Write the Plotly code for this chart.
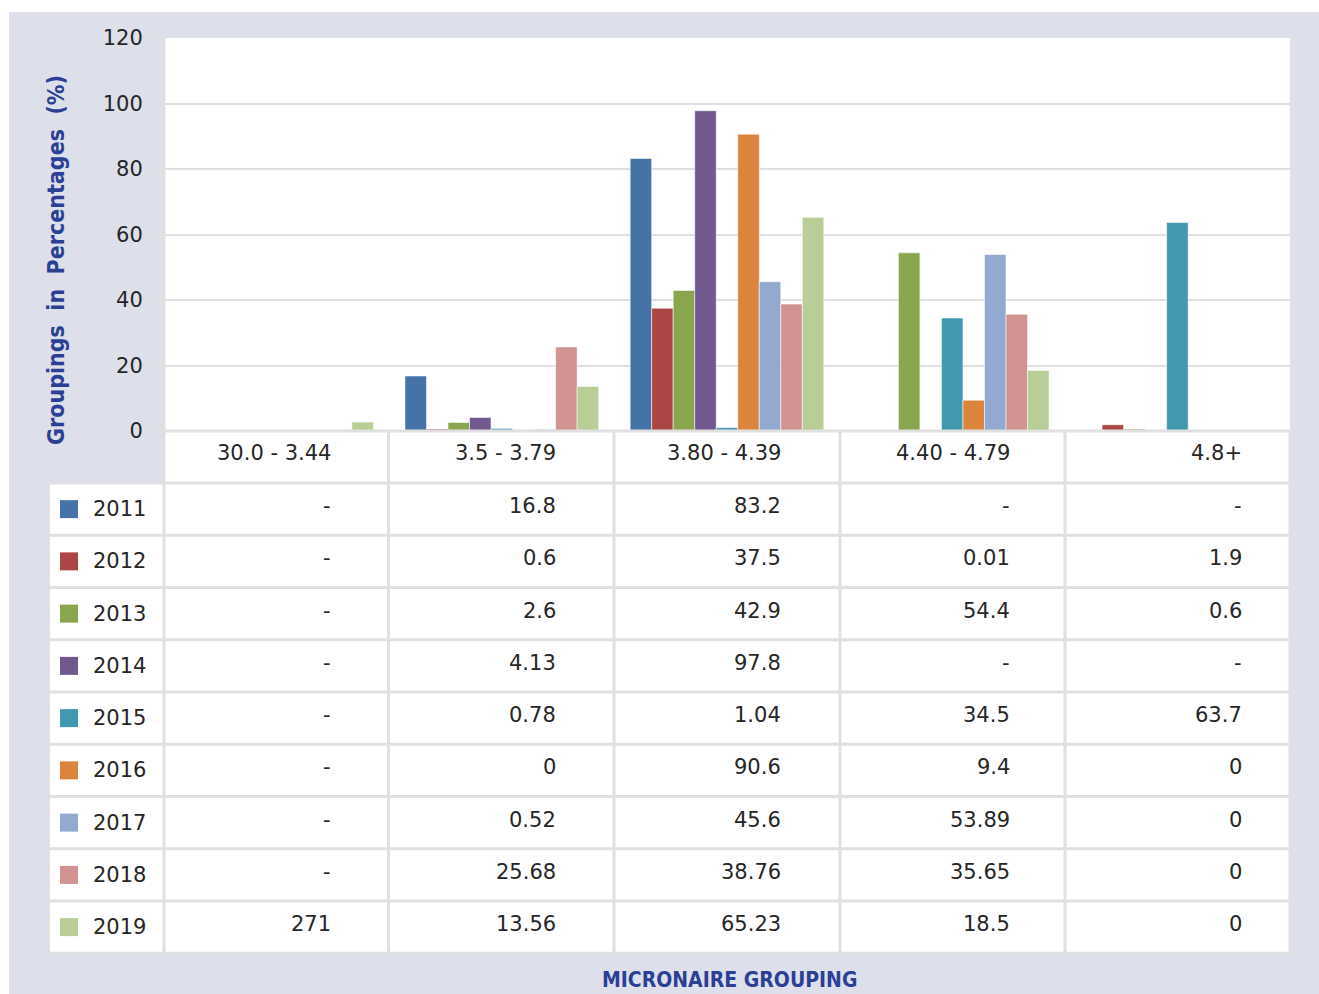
import plotly.graph_objects as go

# Micronaire groups (x categories / table header)
categories = ["30.0 - 3.44", "3.5 - 3.79", "3.80 - 4.39", "4.40 - 4.79", "4.8+"]

years = ["2011", "2012", "2013", "2014", "2015", "2016", "2017", "2018", "2019"]

# Share of each micronaire group per season (%); None = no data ("-")
v2011 = [None, 16.8, 83.2, None, None]
v2012 = [None, 0.6, 37.5, 0.01, 1.9]
v2013 = [None, 2.6, 42.9, 54.4, 0.6]
v2014 = [None, 4.13, 97.8, None, None]
v2015 = [None, 0.78, 1.04, 34.5, 63.7]
v2016 = [None, 0, 90.6, 9.4, 0]
v2017 = [None, 0.52, 45.6, 53.89, 0]
v2018 = [None, 25.68, 38.76, 35.65, 0]
v2019 = [2.71, 13.56, 65.23, 18.5, 0]

series = [v2011, v2012, v2013, v2014, v2015, v2016, v2017, v2018, v2019]

# Printed table entries that differ from the plain number formatting
table_overrides = {("2019", 0): "271"}

colors = ["#4572a7", "#aa4643", "#89a54e", "#71588f", "#4198af",
          "#db843d", "#93a9cf", "#d19392", "#b9cd96"]

# ---- layout geometry (pixels) ----
W, H = 1319, 994
PL, PR, PT, PB = 164, 1290, 38, 431          # plot area edges
ROW0, ROW_H = 483, 52.25                      # first data row top, row height
COL_EDGES = [164, 388.5, 614, 840, 1065, 1290]
TEXT_RIGHT = [333, 558, 783, 1012, 1244]      # right edge of cell text
LEG_L = 49


def px(x):
    return (x - PL) / (PR - PL)


def py(y):
    return (PB - y) / (PB - PT)


TXT = "#262626"
GRID = "#e0e0e0"
BG = "#dddfeb"
TITLE_C = "#2b3f95"
FONT = "DejaVu Sans"
BOLD_NARROW = "DejaVu Sans Condensed, DejaVu Sans"

fig = go.Figure()
for name, vals, col in zip(years, series, colors):
    fig.add_trace(go.Bar(
        x=categories, y=vals, name=name,
        marker=dict(color=col, line=dict(color="rgba(255,255,255,0.55)", width=1)),
    ))

shapes = []
annotations = []

# white page strips outside the lavender panel
shapes.append(dict(type="rect", xref="paper", yref="paper", layer="below",
                   x0=px(-5), x1=px(9), y0=py(H + 5), y1=py(-5),
                   fillcolor="white", line=dict(width=0)))
shapes.append(dict(type="rect", xref="paper", yref="paper", layer="below",
                   x0=px(-5), x1=px(W + 5), y0=py(12), y1=py(-5),
                   fillcolor="white", line=dict(width=0)))
# white table body
shapes.append(dict(type="rect", xref="paper", yref="paper", layer="below",
                   x0=px(PL), x1=px(PR), y0=py(ROW0), y1=py(PB),
                   fillcolor="white", line=dict(width=0)))
n_rows = len(years)
bottom = ROW0 + ROW_H * n_rows
shapes.append(dict(type="rect", xref="paper", yref="paper", layer="below",
                   x0=px(LEG_L), x1=px(PR), y0=py(bottom), y1=py(ROW0),
                   fillcolor="white", line=dict(width=0)))

# horizontal grid lines of the table
for i in range(n_rows + 1):
    y = ROW0 + ROW_H * i
    shapes.append(dict(type="line", xref="paper", yref="paper",
                       x0=px(LEG_L), x1=px(PR), y0=py(y), y1=py(y),
                       line=dict(color=GRID, width=3)))
shapes.append(dict(type="line", xref="paper", yref="paper",
                   x0=px(PL), x1=px(PR), y0=py(PB), y1=py(PB),
                   line=dict(color=GRID, width=3)))
# vertical grid lines
for i, x in enumerate(COL_EDGES):
    top = PT if i == 0 else PB
    shapes.append(dict(type="line", xref="paper", yref="paper",
                       x0=px(x), x1=px(x), y0=py(top), y1=py(bottom),
                       line=dict(color=GRID, width=3)))
shapes.append(dict(type="line", xref="paper", yref="paper",
                   x0=px(LEG_L), x1=px(LEG_L), y0=py(ROW0), y1=py(bottom),
                   line=dict(color=GRID, width=2)))

# header row: group names
for j, cat in enumerate(categories):
    annotations.append(dict(xref="paper", yref="paper", x=px(TEXT_RIGHT[j]),
                            y=py(453), xanchor="right", yanchor="middle",
                            text=cat, showarrow=False,
                            font=dict(family=FONT, size=21, color=TXT)))

# data rows with legend keys
for i, (name, vals, col) in enumerate(zip(years, series, colors)):
    top = ROW0 + ROW_H * i
    cy = top + ROW_H / 2
    shapes.append(dict(type="rect", xref="paper", yref="paper",
                       x0=px(60), x1=px(78), y0=py(cy + 9), y1=py(cy - 9),
                       fillcolor=col, line=dict(width=0)))
    annotations.append(dict(xref="paper", yref="paper", x=px(91), y=py(cy),
                            xanchor="left", yanchor="middle", text=name,
                            showarrow=False,
                            font=dict(family=FONT, size=21, color=TXT)))
    for j, v in enumerate(vals):
        txt = table_overrides.get((name, j), "-" if v is None else f"{v:g}")
        annotations.append(dict(xref="paper", yref="paper", x=px(TEXT_RIGHT[j]),
                                y=py(cy - 3), xanchor="right", yanchor="middle",
                                text=txt, showarrow=False,
                                font=dict(family=FONT, size=21, color=TXT)))

# axis titles
annotations.append(dict(xref="paper", yref="paper", x=px(56), y=py(260),
                        xanchor="center", yanchor="middle", textangle=-90,
                        text="Groupings  in  Percentages  (%)", showarrow=False,
                        font=dict(family=BOLD_NARROW, size=23, color=TITLE_C,
                                  weight="bold")))
annotations.append(dict(xref="paper", yref="paper", x=px(729), y=py(980),
                        xanchor="center", yanchor="middle",
                        text="MICRONAIRE GROUPING", showarrow=False,
                        font=dict(family=BOLD_NARROW, size=21, color=TITLE_C,
                                  weight="bold")))

fig.update_layout(
    width=W, height=H,
    margin=dict(l=PL, r=W - PR, t=PT, b=H - PB, pad=0),
    paper_bgcolor=BG, plot_bgcolor="white",
    barmode="group", bargap=0.14, bargroupgap=0,
    showlegend=False,
    shapes=shapes, annotations=annotations,
    xaxis=dict(showticklabels=False, ticks="", showgrid=False, zeroline=False,
               showline=False, fixedrange=True),
    yaxis=dict(range=[0, 120], dtick=20, showgrid=True, gridcolor=GRID,
               gridwidth=2, zeroline=False, ticks="outside", ticklen=12,
               tickcolor=GRID, tickwidth=2, ticklabelstandoff=4,
               tickfont=dict(family=FONT, size=21, color=TXT),
               showline=False, fixedrange=True),
)

fig.write_html("out.html")
